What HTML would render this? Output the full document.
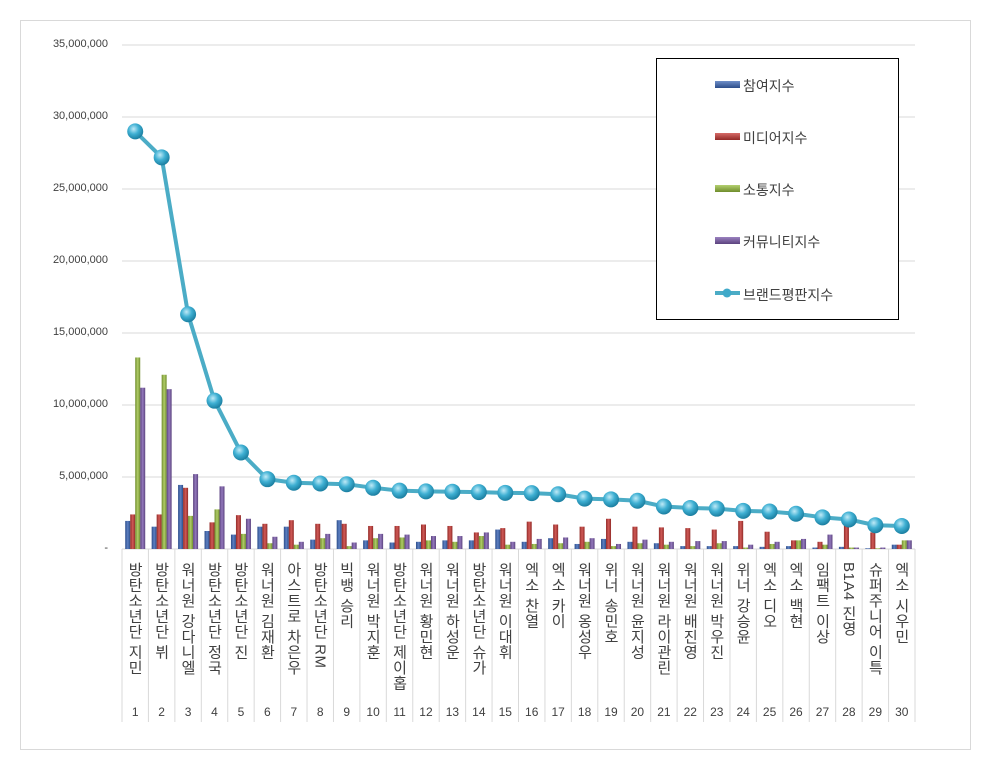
<!DOCTYPE html>
<html><head><meta charset="utf-8"><style>
body{margin:0;background:#fff;width:989px;height:771px;overflow:hidden;position:relative;font-family:"Liberation Sans","Noto Sans CJK KR",sans-serif}
.frame{position:absolute;left:20px;top:20px;width:951px;height:730px;border:1px solid #d9d9d9;box-sizing:border-box}
.yl{position:absolute;right:881px;font-size:11px;color:#404040;text-align:right}
.cat{position:absolute;top:562px;writing-mode:vertical-rl;text-orientation:mixed;font-size:15px;color:#404040;letter-spacing:0.5px;line-height:17px;height:150px;white-space:nowrap}
.num{position:absolute;top:705px;font-size:12px;color:#404040;text-align:center;width:26px}
.legend{position:absolute;left:656px;top:58px;width:243px;height:262px;border:1px solid #000;box-sizing:border-box;background:#fff}
.li{position:absolute;left:58px;font-size:14px;color:#404040}
</style></head><body>
<div class="frame"></div>
<svg id="s" width="989" height="771" style="position:absolute;left:0;top:0"></svg>
<div id="h"></div>
<div class="legend">
<svg width="243" height="262" style="position:absolute;left:0;top:0">
<defs>
<linearGradient id="lb" x1="0" y1="0" x2="0" y2="1"><stop offset="0" stop-color="#6f8fc9"/><stop offset="1" stop-color="#2c4d8a"/></linearGradient>
<linearGradient id="lr" x1="0" y1="0" x2="0" y2="1"><stop offset="0" stop-color="#d66b68"/><stop offset="1" stop-color="#922a27"/></linearGradient>
<linearGradient id="lg" x1="0" y1="0" x2="0" y2="1"><stop offset="0" stop-color="#b4d070"/><stop offset="1" stop-color="#6f8d2c"/></linearGradient>
<linearGradient id="lp" x1="0" y1="0" x2="0" y2="1"><stop offset="0" stop-color="#9b82c0"/><stop offset="1" stop-color="#5b437e"/></linearGradient>
</defs>
<rect x="58" y="22" width="25" height="7" fill="url(#lb)"/>
<rect x="58" y="74" width="25" height="7" fill="url(#lr)"/>
<rect x="58" y="126" width="25" height="7" fill="url(#lg)"/>
<rect x="58" y="178" width="25" height="7" fill="url(#lp)"/>
<line x1="58" y1="234" x2="83" y2="234" stroke="#4bacc6" stroke-width="4"/>
<circle cx="70" cy="234" r="4.5" fill="#3fa9c9"/>
</svg>
<div class="li" style="left:86px;top:17px">참여지수</div>
<div class="li" style="left:86px;top:69px">미디어지수</div>
<div class="li" style="left:86px;top:121px">소통지수</div>
<div class="li" style="left:86px;top:173px">커뮤니티지수</div>
<div class="li" style="left:86px;top:226px">브랜드평판지수</div>
</div>
<script>
var L=122,W=(915-122)/30,Y0=549,PX=72/5;
var line=[29.0,27.2,16.3,10.3,6.7,4.85,4.6,4.55,4.5,4.25,4.05,4.0,3.98,3.95,3.9,3.88,3.8,3.5,3.45,3.35,2.95,2.85,2.8,2.65,2.6,2.45,2.2,2.05,1.65,1.6];
var bars=[[1.95,2.4,13.3,11.2],[1.55,2.4,12.1,11.1],[4.45,4.25,2.3,5.2],[1.25,1.85,2.75,4.35],[1.0,2.35,1.05,2.1],[1.55,1.75,0.4,0.85],[1.55,2.0,0.3,0.5],[0.65,1.75,0.75,1.05],[2.0,1.75,0.2,0.45],[0.6,1.6,0.75,1.05],[0.45,1.6,0.8,1.0],[0.5,1.7,0.6,0.9],[0.6,1.6,0.5,0.9],[0.6,1.15,0.9,1.15],[1.35,1.45,0.3,0.5],[0.5,1.9,0.35,0.7],[0.75,1.7,0.4,0.8],[0.35,1.55,0.5,0.75],[0.7,2.1,0.2,0.35],[0.5,1.55,0.4,0.65],[0.4,1.5,0.3,0.5],[0.2,1.45,0.2,0.55],[0.2,1.35,0.4,0.55],[0.2,1.95,0.1,0.3],[0.15,1.2,0.35,0.5],[0.2,0.6,0.6,0.7],[0.1,0.5,0.3,1.0],[0.15,1.75,0.1,0.1],[0.05,1.15,0.05,0.1],[0.3,0.3,0.6,0.6]];
var names=["방탄소년단 지민","방탄소년단 뷔","워너원 강다니엘","방탄소년단 정국","방탄소년단 진","워너원 김재환","아스트로 차은우","방탄소년단 RM","빅뱅 승리","워너원 박지훈","방탄소년단 제이홉","워너원 황민현","워너원 하성운","방탄소년단 슈가","워너원 이대휘","엑소 찬열","엑소 카이","워너원 옹성우","위너 송민호","워너원 윤지성","워너원 라이관린","워너원 배진영","워너원 박우진","위너 강승윤","엑소 디오","엑소 백현","임팩트 이상","B1A4 진영","슈퍼주니어 이특","엑소 시우민"];
var c=['url(#gb)','url(#gr)','url(#gg)','url(#gp)'];
var s='<defs><linearGradient id="gb" x1="0" x2="1"><stop offset="0" stop-color="#2c4d8a"/><stop offset=".5" stop-color="#5d80c2"/><stop offset="1" stop-color="#2c4d8a"/></linearGradient><linearGradient id="gr" x1="0" x2="1"><stop offset="0" stop-color="#922a27"/><stop offset=".5" stop-color="#d05a57"/><stop offset="1" stop-color="#922a27"/></linearGradient><linearGradient id="gg" x1="0" x2="1"><stop offset="0" stop-color="#6f8d2c"/><stop offset=".5" stop-color="#b0cc68"/><stop offset="1" stop-color="#6f8d2c"/></linearGradient><linearGradient id="gp" x1="0" x2="1"><stop offset="0" stop-color="#5b437e"/><stop offset=".5" stop-color="#9479bd"/><stop offset="1" stop-color="#5b437e"/></linearGradient><radialGradient id="ball" cx=".4" cy=".35" r=".65"><stop offset="0" stop-color="#bfeaf7"/><stop offset=".5" stop-color="#3fb0d3"/><stop offset="1" stop-color="#1b7fa1"/></radialGradient></defs>';
var h='';
for(var i=0;i<=7;i++){var y=Y0-i*72;if(i>0)s+='<line x1="'+L+'" y1="'+y+'" x2="915" y2="'+y+'" stroke="#d9d9d9"/>';
h+='<div class="yl" style="top:'+(y-7)+'px">'+(i==0?'-':(i*5).toLocaleString('en')+',000,000')+'</div>';}
s+='<line x1="'+L+'" y1="'+Y0+'" x2="915" y2="'+Y0+'" stroke="#d9d9d9"/>';
for(var i=0;i<=30;i++){var x=L+i*W;s+='<line x1="'+x+'" y1="'+Y0+'" x2="'+x+'" y2="722" stroke="#d9d9d9"/>';}
for(var i=0;i<30;i++){var cx=L+i*W+W/2;
for(var j=0;j<4;j++){var v=bars[i][j]*PX;s+='<rect x="'+(cx-10+j*5)+'" y="'+(Y0-v)+'" width="5" height="'+v+'" fill="'+c[j]+'"/>';}
h+='<div class="cat" style="left:'+(cx-9)+'px">'+names[i]+'</div>';
h+='<div class="num" style="left:'+(cx-13)+'px">'+(i+1)+'</div>';}
var p='';for(var i=0;i<30;i++){p+=(L+i*W+W/2)+','+(Y0-line[i]*PX)+' ';}
s+='<polyline points="'+p+'" fill="none" stroke="#4bacc6" stroke-width="4" stroke-linejoin="round"/>';
for(var i=0;i<30;i++){s+='<circle cx="'+(L+i*W+W/2)+'" cy="'+(Y0-line[i]*PX)+'" r="8" fill="url(#ball)"/>';}
document.getElementById('s').innerHTML=s;document.getElementById('h').innerHTML=h;
</script>
</body></html>
